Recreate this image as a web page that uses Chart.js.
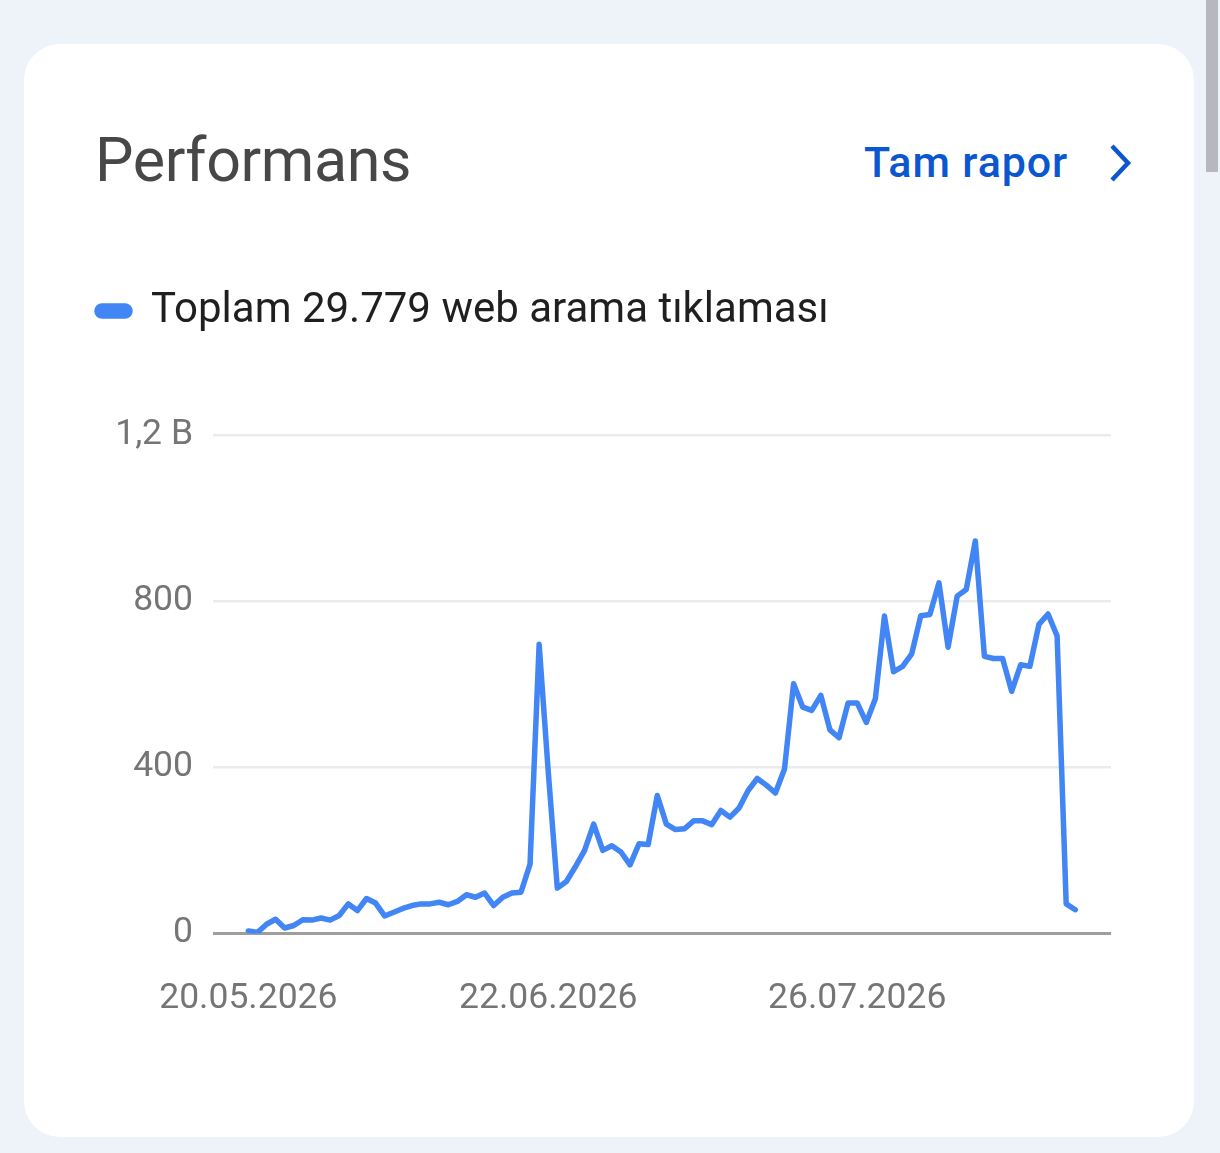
<!DOCTYPE html>
<html>
<head>
<meta charset="utf-8">
<script src="https://cdn.jsdelivr.net/npm/chart.js@4.4.1/dist/chart.umd.min.js"></script>
<style>
  html, body { margin: 0; padding: 0; }
  body { width: 1220px; height: 1153px; background: #eef2f9; position: relative; overflow: hidden; font-family: Roboto, "Noto Sans", sans-serif; }
  .card { position: absolute; left: 24px; top: 44px; width: 1170px; height: 1093px; background: #ffffff; border-radius: 36px; }
  .title { position: absolute; left: 95px; top: 130px; font-size: 61px; color: #474747; font-weight: 400; line-height: 1; letter-spacing: -0.4px; }
  .link { position: absolute; left: 864px; top: 141px; font-size: 43px; color: #0b57d0; font-weight: 500; line-height: 1; letter-spacing: 0.9px; }
  .chev { position: absolute; left: 1102px; top: 143px; width: 36px; height: 40px; }
  .scroll { position: absolute; left: 1206px; top: 0; width: 12px; height: 172px; background: #b7b8bd; }
  .wrap { position: absolute; left: 94px; top: 287px; width: 1030px; height: 769px; }
</style>
</head>
<body>
<div class="card"></div>
<div class="scroll"></div>
<div class="title">Performans</div>
<div class="link">Tam rapor</div>
<svg class="chev" viewBox="0 0 36 40"><polyline points="10,3 26,20 10,37" fill="none" stroke="#0b57d0" stroke-width="4.5" stroke-linecap="butt" stroke-linejoin="miter"/></svg>
<div class="wrap"><canvas id="c"></canvas></div>
<script>
const seriesLabel = 'Toplam 29.779 web arama tıklaması';
const clicks = [
  6, 2, 22, 34, 13, 19, 33, 32, 37, 32,
  43, 71, 55, 84, 73, 42, 51, 60, 67, 71,
  71, 75, 69, 77, 93, 87, 97, 67, 87, 97,
  99, 167, 696, 390, 109, 125, 161, 200, 263, 200,
  211, 196, 165, 216, 214, 332, 263, 250, 252, 271,
  271, 262, 296, 280, 302, 344, 373, 357, 338, 396,
  601, 545, 537, 573, 490, 471, 555, 555, 508, 565,
  764, 630, 643, 673, 765, 768, 844, 689, 812, 828,
  945, 667, 662, 662, 583, 647, 643, 744, 769, 716,
  71, 57
];
const xTickDays = [0, 33, 67];
const xTickLabels = ['20.05.2026', '22.06.2026', '26.07.2026'];
const yTickValues = [0, 400, 800, 1200];
const yTickLabels = ['0', '400', '800', '1,2 B'];

const points = clicks.map((v, i) => ({ x: i, y: v }));

const legendSpace = {
  id: 'legendSpace',
  beforeInit(chart) {
    const orig = chart.legend.fit;
    chart.legend.fit = function () {
      orig.call(this);
      this.height = 148;
    };
  }
};

new Chart(document.getElementById('c'), {
  type: 'line',
  plugins: [legendSpace],
  data: {
    datasets: [{
      label: seriesLabel,
      data: points,
      borderColor: '#4285f4',
      backgroundColor: '#4285f4',
      borderWidth: 5.5,
      pointRadius: 0,
      tension: 0,
      borderJoinStyle: 'round',
      borderCapStyle: 'round'
    }]
  },
  options: {
    responsive: true,
    maintainAspectRatio: false,
    animation: false,
    layout: { padding: { left: 0, right: 13, top: 0, bottom: 0 } },
    plugins: {
      tooltip: { enabled: false },
      legend: {
        display: true,
        position: 'top',
        align: 'start',
        labels: {
          boxWidth: 33,
          boxHeight: 10,
          useBorderRadius: true,
          borderRadius: 5,
          color: '#1f1f1f',
          font: { family: 'Roboto', size: 42 },
          padding: 3
        },
        onClick: null
      }
    },
    scales: {
      x: {
        type: 'linear',
        min: -3.89,
        max: 94.93,
        grid: { display: false },
        border: { display: false },
        afterBuildTicks: (axis) => { axis.ticks = xTickDays.map(v => ({ value: v })); },
        ticks: {
          autoSkip: false,
          maxRotation: 0,
          color: '#757575',
          font: { family: 'Roboto', size: 35.5 },
          padding: 36,
          callback: (v) => { const k = xTickDays.indexOf(v); return k >= 0 ? xTickLabels[k] : ''; }
        }
      },
      y: {
        min: 0,
        max: 1200,
        afterBuildTicks: (axis) => { axis.ticks = yTickValues.map(v => ({ value: v })); },
        afterFit: (axis) => { axis.width = 119; },
        grid: {
          drawTicks: false,
          color: (ctx) => ctx.tick && ctx.tick.value === 0 ? '#9e9e9e' : '#ebebeb',
          lineWidth: (ctx) => ctx.tick && ctx.tick.value === 0 ? 3 : 2.5
        },
        border: { display: false },
        ticks: {
          color: '#757575',
          font: { family: 'Roboto', size: 35.5 },
          padding: 20,
          callback: (v) => { const k = yTickValues.indexOf(v); return k >= 0 ? yTickLabels[k] : ''; }
        }
      }
    }
  }
});
</script>
</body>
</html>
